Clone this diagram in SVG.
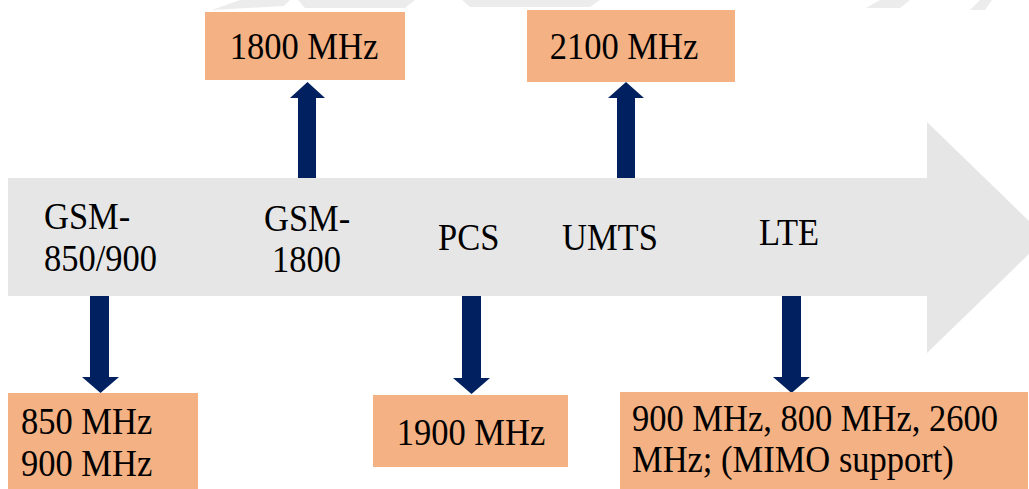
<svg xmlns="http://www.w3.org/2000/svg" width="1029" height="489" viewBox="0 0 1029 489">
  <style>
    .box { fill: #f4b183; }
    .t { font-family: "Liberation Serif", "Times New Roman", serif; font-size: 34.5px; fill: #000; }
    .arr { fill: #002060; }
  </style>
  <rect width="1029" height="489" fill="#ffffff"/>
  <g id="faint-top" fill="#ececec">
    <path d="M212,10 L240,0 L290,0 L284,6 Z"/>
    <path d="M298,0 L415,0 L405,8 L305,8 Z"/>
    <path d="M462,0 L600,0 L590,7 L470,7 Z"/>
    <path d="M866,8 L880,0 L910,0 L900,8 Z"/>
    <path d="M970,10 L980,0 L992,0 L985,10 Z"/>
  </g>
  <g id="timeline">
    <polygon points="8,178 927,178 927,122 1046,237.5 927,353 927,296 8,296" fill="#e6e6e6"/>
  </g>
  <g id="connectors">
    <polygon class="arr" points="298,178 298,98 290,98 307.5,82 325,98 316,98 316,178"/>
    <polygon class="arr" points="617,178 617,98 608,98 626,82 644,98 635,98 635,178"/>
    <polygon class="arr" points="90,296 90,377 82,377 100.5,393 119,377 109,377 109,296"/>
    <polygon class="arr" points="462,296 462,378 453,378 471.5,394 490,378 481,378 481,296"/>
    <polygon class="arr" points="782,296 782,377 773,377 791.5,393 810,377 801,377 801,296"/>
  </g>
  <g id="gsm850-label">
    <text class="t" transform="translate(44 229) scale(1 1.08)">GSM-</text>
    <text class="t" transform="translate(44 271) scale(1 1.08)">850/900</text>
  </g>
  <g id="gsm1800-label">
    <text class="t" transform="translate(264 231) scale(1 1.08)">GSM-</text>
    <text class="t" transform="translate(272 272) scale(1 1.08)">1800</text>
  </g>
  <g id="pcs-label"><text class="t" transform="translate(438 250) scale(1 1.08)">PCS</text></g>
  <g id="umts-label"><text class="t" transform="translate(562 250) scale(1 1.08)">UMTS</text></g>
  <g id="lte-label"><text class="t" transform="translate(759 245) scale(1 1.08)">LTE</text></g>
  <g id="box-1800">
    <rect class="box" x="205" y="12" width="200" height="68"/>
    <text class="t" text-anchor="middle" transform="translate(304 59) scale(1 1.08)">1800 MHz</text>
  </g>
  <g id="box-2100">
    <rect class="box" x="527" y="10" width="208" height="72"/>
    <text class="t" text-anchor="middle" transform="translate(624 59) scale(1 1.08)">2100 MHz</text>
  </g>
  <g id="box-850">
    <rect class="box" x="8" y="393" width="190" height="96"/>
    <text class="t" transform="translate(21 434) scale(1 1.08)">850 MHz</text>
    <text class="t" transform="translate(21 476) scale(1 1.08)">900 MHz</text>
  </g>
  <g id="box-1900">
    <rect class="box" x="373" y="395" width="195" height="72"/>
    <text class="t" text-anchor="middle" transform="translate(471 445) scale(1 1.08)">1900 MHz</text>
  </g>
  <g id="box-lte">
    <rect class="box" x="620" y="392" width="408" height="97"/>
    <text class="t" transform="translate(632 431) scale(1 1.08)">900 MHz, 800 MHz, 2600</text>
    <text class="t" transform="translate(632 472) scale(1 1.08)">MHz; (MIMO support)</text>
  </g>
</svg>
